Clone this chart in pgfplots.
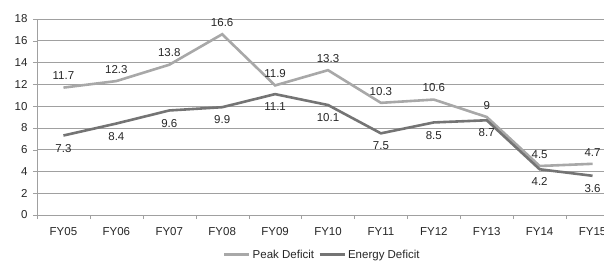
\documentclass[border=0pt]{standalone}
\usepackage{pgfplots}
\pgfplotsset{compat=1.18}
\usepackage{fontspec}
\setmainfont{Liberation Sans}
\definecolor{peak}{HTML}{A8A8A8}
\definecolor{energy}{HTML}{747474}
\definecolor{gridc}{HTML}{A0A0A0}
\begin{document}
\begin{tikzpicture}
\begin{axis}[
  scale only axis, width=582pt, height=196pt,
  xmin=-0.5, xmax=10.5, ymin=0, ymax=18,
  axis x line*=bottom, axis y line*=left,
  axis line style={gridc, -},
  xtick={0,...,10},
  xticklabels={FY05,FY06,FY07,FY08,FY09,FY10,FY11,FY12,FY13,FY14,FY15},
  minor xtick={-0.5,0.5,...,10.5},
  major x tick style={draw=none},
  minor x tick style={gridc},
  minor tick length=4pt,
  ytick={0,2,...,18},
  major tick length=4pt,
  tick align=outside,
  y tick style={gridc},
  ymajorgrids, grid style={gridc, line width=0.7pt},
  tick label style={font=\fontsize{11.5}{13}\selectfont, text=black!85},
  /pgf/number format/assume math mode=true,
  xticklabel style={yshift=-5pt},
  yticklabel style={xshift=-2pt},
  nodes near coords,
  every node near coord/.append style={font=\fontsize{11.5}{13}\selectfont, text=black!85},
  legend style={at={(axis description cs:0.49,-0.203)}, anchor=center, draw=none, fill=none,
    legend columns=2, font=\fontsize{11.5}{13}\selectfont, text=black!85,
    /tikz/every even column/.append style={column sep=2pt}},
  legend image code/.code={\draw[#1, line width=3pt] (0pt,0pt) -- (25pt,0pt);},
]
\coordinate (ll) at (rel axis cs:0,0);
\addplot[peak, line width=2.6pt, mark=none,
  every node near coord/.append style={anchor=south, yshift=3pt}]
  coordinates {(0,11.7) (1,12.3) (2,13.8) (3,16.6) (4,11.9) (5,13.3) (6,10.3) (7,10.6) (8,9) (9,4.5) (10,4.7)};
\addlegendentry{Peak Deficit}
\addplot[energy, line width=2.6pt, mark=none,
  every node near coord/.append style={anchor=north, yshift=-4pt}]
  coordinates {(0,7.3) (1,8.4) (2,9.6) (3,9.9) (4,11.1) (5,10.1) (6,7.5) (7,8.5) (8,8.7) (9,4.2) (10,3.6)};
\addlegendentry{Energy Deficit}
\end{axis}
\pgfresetboundingbox
\path ([shift={(-37pt,-47pt)}]ll) rectangle ([shift={(567pt,215pt)}]ll);
\end{tikzpicture}
\end{document}
